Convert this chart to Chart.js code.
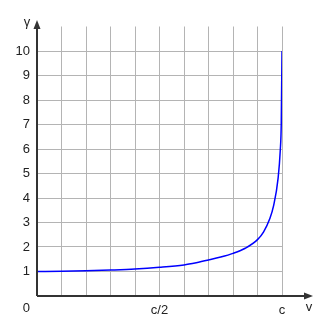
<!DOCTYPE html>
<html>
<head>
<meta charset="utf-8">
<script src="https://cdn.jsdelivr.net/npm/chart.js@4.4.1/dist/chart.umd.min.js"></script>
<style>
  body { margin: 0; background: #fff; }
  canvas { display: block; }
</style>
</head>
<body>
<canvas id="myChart" width="330" height="330"></canvas>
<script>
// speed in tenths of c
const speedValues = [0, 1, 2, 3, 4, 5, 6, 6.5, 7, 7.5, 8, 8.5, 9, 9.25, 9.5, 9.66, 9.84, 9.93, 9.97, 10];
const gammaValues = [1, 1.01, 1.03, 1.06, 1.1, 1.17, 1.27, 1.36, 1.47, 1.59, 1.74, 1.95, 2.3, 2.62, 3.15, 3.7, 4.8, 5.96, 7.06, 10];
const xTickLabels = {5: 'c/2', 10: 'c'};
const yTickLabels = [1, 2, 3, 4, 5, 6, 7, 8, 9, 10];

const FONT = 'Liberation Sans, Arial, sans-serif';
const textColor = '#222';
const gridColor = '#b4b4b4';
const axisColor = '#333';

const points = speedValues.map((v, i) => ({x: v, y: gammaValues[i]}));

// draws the two axes with arrows and the loose labels
const axesPlugin = {
    id: 'axesArrows',
    afterDraw(chart){
        const ctx = chart.ctx;
        const xs = chart.scales.x, ys = chart.scales.y;
        const x0 = xs.getPixelForValue(0), y0 = ys.getPixelForValue(0);
        const xEnd = 313, yEnd = 20;
        ctx.save();
        ctx.strokeStyle = axisColor;
        ctx.fillStyle = axisColor;
        ctx.lineWidth = 2;
        ctx.beginPath();
        ctx.moveTo(x0, y0);
        ctx.lineTo(xEnd - 6, y0);
        ctx.moveTo(x0, y0);
        ctx.lineTo(x0, yEnd + 6);
        ctx.stroke();
        // arrow heads
        ctx.beginPath();
        ctx.moveTo(xEnd, y0);
        ctx.lineTo(xEnd - 9, y0 - 3.5);
        ctx.lineTo(xEnd - 9, y0 + 3.5);
        ctx.closePath();
        ctx.fill();
        ctx.beginPath();
        ctx.moveTo(x0, yEnd);
        ctx.lineTo(x0 - 3.5, yEnd + 9);
        ctx.lineTo(x0 + 3.5, yEnd + 9);
        ctx.closePath();
        ctx.fill();

        ctx.fillStyle = textColor;
        ctx.font = '13px ' + FONT;
        ctx.textBaseline = 'alphabetic';
        ctx.textAlign = 'center';
        ctx.fillText('γ', 27, 26);
        ctx.fillText('v', 309, 311);
        ctx.textAlign = 'right';
        ctx.fillText('0', 30, 312);
        ctx.restore();
    }
};

new Chart(document.getElementById('myChart').getContext('2d'), {
    type: 'line',
    data: {
        datasets: [{
            data: points,
            borderColor: '#0000ff',
            borderWidth: 1.5,
            pointRadius: 0,
            fill: false,
            cubicInterpolationMode: 'monotone'
        }]
    },
    options: {
        responsive: false,
        animation: false,
        layout: { padding: { left: 0, right: 48, top: 26.5, bottom: 0 } },
        plugins: { legend: { display: false }, tooltip: { enabled: false } },
        scales: {
            x: {
                type: 'linear',
                min: 0,
                max: 10,
                afterFit(scale){ scale.height = 34; },
                border: { display: false },
                grid: {
                    drawTicks: false,
                    lineWidth: 1,
                    color: c => c.tick && c.tick.value === 0 ? 'rgba(0,0,0,0)' : gridColor
                },
                ticks: {
                    stepSize: 1,
                    autoSkip: false,
                    maxRotation: 0,
                    padding: 7,
                    color: textColor,
                    font: { family: FONT, size: 13 },
                    callback: v => xTickLabels[v] || ''
                }
            },
            y: {
                type: 'linear',
                min: 0,
                max: 11,
                afterFit(scale){ scale.width = 37; },
                border: { display: false },
                grid: {
                    drawTicks: false,
                    lineWidth: 1,
                    color: c => c.tick && (c.tick.value === 0 || c.tick.value === 11) ? 'rgba(0,0,0,0)' : gridColor
                },
                ticks: {
                    stepSize: 1,
                    autoSkip: false,
                    padding: 7,
                    color: textColor,
                    font: { family: FONT, size: 13 },
                    callback: v => yTickLabels.includes(v) ? String(v) : ''
                }
            }
        }
    },
    plugins: [axesPlugin]
});
</script>
</body>
</html>
